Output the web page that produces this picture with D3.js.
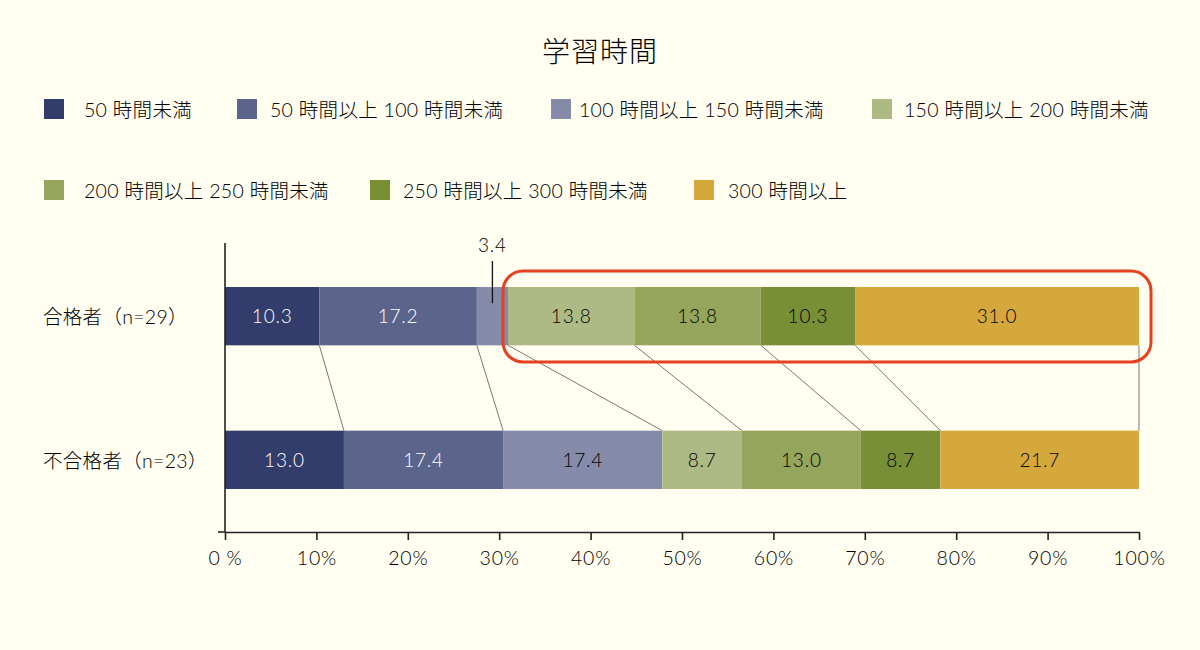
<!DOCTYPE html>
<html>
<head>
<meta charset="utf-8">
<script src="https://cdn.jsdelivr.net/npm/d3@7"></script>
<style>
  html, body { margin: 0; padding: 0; background: #fffef0; }
  svg { display: block; font-family: Lato, "Noto Sans CJK JP", sans-serif; font-weight: 300; }
</style>
</head>
<body>
<script>
// data
const groups = ['合格者（n=29）', '不合格者（n=23）']
const categories = [
  '50 時間未満',
  '50 時間以上 100 時間未満',
  '100 時間以上 150 時間未満',
  '150 時間以上 200 時間未満',
  '200 時間以上 250 時間未満',
  '250 時間以上 300 時間未満',
  '300 時間以上'
]
const passValues = [10.3, 17.2, 3.4, 13.8, 13.8, 10.3, 31.0]
const failValues = [13.0, 17.4, 17.4, 8.7, 13.0, 8.7, 21.7]
const tickLabels = ['0 %', '10%', '20%', '30%', '40%', '50%', '60%', '70%', '80%', '90%', '100%']

const colors = ['#323d6c', '#5b658c', '#858ba9', '#aeba84', '#95a55b', '#788f35', '#d5a83b']
const lightText = [true, true, false, false, false, false, false]
const ink = '#000'

const w = 1200
const h = 650

const svg = d3.select('body')
  .append('svg')
  .attr('width', w)
  .attr('height', h)

svg.append('rect')
  .attr('width', w)
  .attr('height', h)
  .attr('fill', '#fffef0')

svg.append('text')
  .attr('x', 600)
  .attr('y', 62)
  .attr('text-anchor', 'middle')
  .attr('font-size', 28)
  .attr('letter-spacing', 1)
  .attr('fill', ink)
  .text('学習時間')

// legend, two rows like the original
const legendPos = [[44, 99], [237, 99], [551, 99], [872, 99], [44, 180], [370, 180], [694, 180]]
const legendGap = [20, 13, 8, 12, 20, 13, 14]

const legend = svg.append('g')
  .selectAll('g')
  .data(categories)
  .enter()
  .append('g')
  .attr('transform', (d, i) => `translate(${legendPos[i][0]}, ${legendPos[i][1]})`)

legend.append('rect')
  .attr('width', 20)
  .attr('height', 20)
  .attr('fill', (d, i) => colors[i])

legend.append('text')
  .attr('x', (d, i) => 20 + legendGap[i])
  .attr('y', 11)
  .attr('dy', '0.36em')
  .attr('font-size', 19.5)
  .attr('letter-spacing', 0.3)
  .attr('fill', ink)
  .text(d => d)

// stacked data
const rows = groups.map((g, gi) => {
  const vals = gi === 0 ? passValues : failValues
  const row = { group: g }
  categories.forEach((c, i) => { row[c] = vals[i] })
  return row
})

const series = d3.stack()
  .keys(categories)
  .offset(d3.stackOffsetExpand)(rows)

const xScale = d3.scaleLinear()
  .domain([0, 1])
  .range([225, 1139])

const yScale = d3.scaleBand()
  .domain(groups)
  .range([287, 489])
  .paddingInner(0.594)
  .paddingOuter(0)

// connector lines between the two bars
const topY = yScale(groups[0]) + yScale.bandwidth()
const botY = yScale(groups[1])
svg.append('g')
  .selectAll('line')
  .data(series)
  .enter()
  .append('line')
  .attr('x1', d => xScale(d[0][1]))
  .attr('x2', d => xScale(d[1][1]))
  .attr('y1', topY)
  .attr('y2', botY)
  .attr('stroke', '#555')
  .attr('stroke-width', 0.8)

const layer = svg.append('g')
  .selectAll('g')
  .data(series)
  .enter()
  .append('g')
  .attr('fill', (d, i) => colors[i])

layer.selectAll('rect')
  .data(d => d)
  .enter()
  .append('rect')
  .attr('x', d => xScale(d[0]))
  .attr('y', d => yScale(d.data.group))
  .attr('width', d => xScale(d[1]) - xScale(d[0]))
  .attr('height', yScale.bandwidth())

// value labels
series.forEach((s, si) => {
  s.forEach(d => {
    const x0 = xScale(d[0])
    const x1 = xScale(d[1])
    const cx = (x0 + x1) / 2
    const cy = yScale(d.data.group) + yScale.bandwidth() / 2
    const label = d.data[s.key].toFixed(1)
    if (x1 - x0 < 35) {
      svg.append('line')
        .attr('x1', cx)
        .attr('x2', cx)
        .attr('y1', yScale(d.data.group) - 26)
        .attr('y2', cy - 13)
        .attr('stroke', '#111')
        .attr('stroke-width', 1.3)
      svg.append('text')
        .attr('x', cx)
        .attr('y', yScale(d.data.group) - 42)
        .attr('dy', '0.36em')
        .attr('text-anchor', 'middle')
        .attr('font-size', 19)
        .attr('letter-spacing', 0.8)
        .attr('fill', ink)
        .text(label)
    } else {
      svg.append('text')
        .attr('x', cx)
        .attr('y', cy)
        .attr('dy', '0.36em')
        .attr('text-anchor', 'middle')
        .attr('font-size', 19)
        .attr('letter-spacing', 0.8)
        .attr('fill', lightText[si] ? '#fff' : ink)
        .text(label)
    }
  })
})

// category labels
svg.append('g')
  .selectAll('text')
  .data(groups)
  .enter()
  .append('text')
  .attr('x', 43)
  .attr('y', d => yScale(d) + yScale.bandwidth() / 2 + 1)
  .attr('dy', '0.36em')
  .attr('font-size', 19.5)
  .attr('letter-spacing', 0.3)
  .attr('fill', ink)
  .text(d => d)

// axes
const xAxis = d3.axisBottom(xScale)
  .tickValues(d3.range(0, 11).map(i => i / 10))
  .tickFormat((d, i) => tickLabels[i])
  .tickSize(8)
  .tickSizeOuter(0)

const gx = svg.append('g')
  .attr('transform', 'translate(0, 532)')
  .call(xAxis)
  .attr('id', 'x-axis')

gx.select('.domain').attr('stroke', '#222').attr('stroke-width', 1.6)
gx.selectAll('.tick line').attr('stroke', '#222').attr('stroke-width', 1.6)
gx.selectAll('.tick text')
  .attr('font-size', 19.5)
  .attr('font-family', 'Lato, "Noto Sans CJK JP", sans-serif')
  .attr('font-weight', 300)
  .attr('letter-spacing', 0.8)
  .attr('fill', ink)
  .attr('y', 26)
  .attr('dy', '0.36em')

svg.append('line')
  .attr('x1', 218)
  .attr('x2', xScale(0))
  .attr('y1', 532)
  .attr('y2', 532)
  .attr('stroke', '#222')
  .attr('stroke-width', 1.6)

svg.append('line')
  .attr('x1', xScale(0))
  .attr('x2', xScale(0))
  .attr('y1', 243)
  .attr('y2', 532)
  .attr('stroke', '#222')
  .attr('stroke-width', 1.6)

// highlight box
svg.append('rect')
  .attr('x', 503)
  .attr('y', 271)
  .attr('width', 648)
  .attr('height', 91)
  .attr('rx', 20)
  .attr('fill', 'none')
  .attr('stroke', '#e5401f')
  .attr('stroke-width', 3)
</script>
</body>
</html>
